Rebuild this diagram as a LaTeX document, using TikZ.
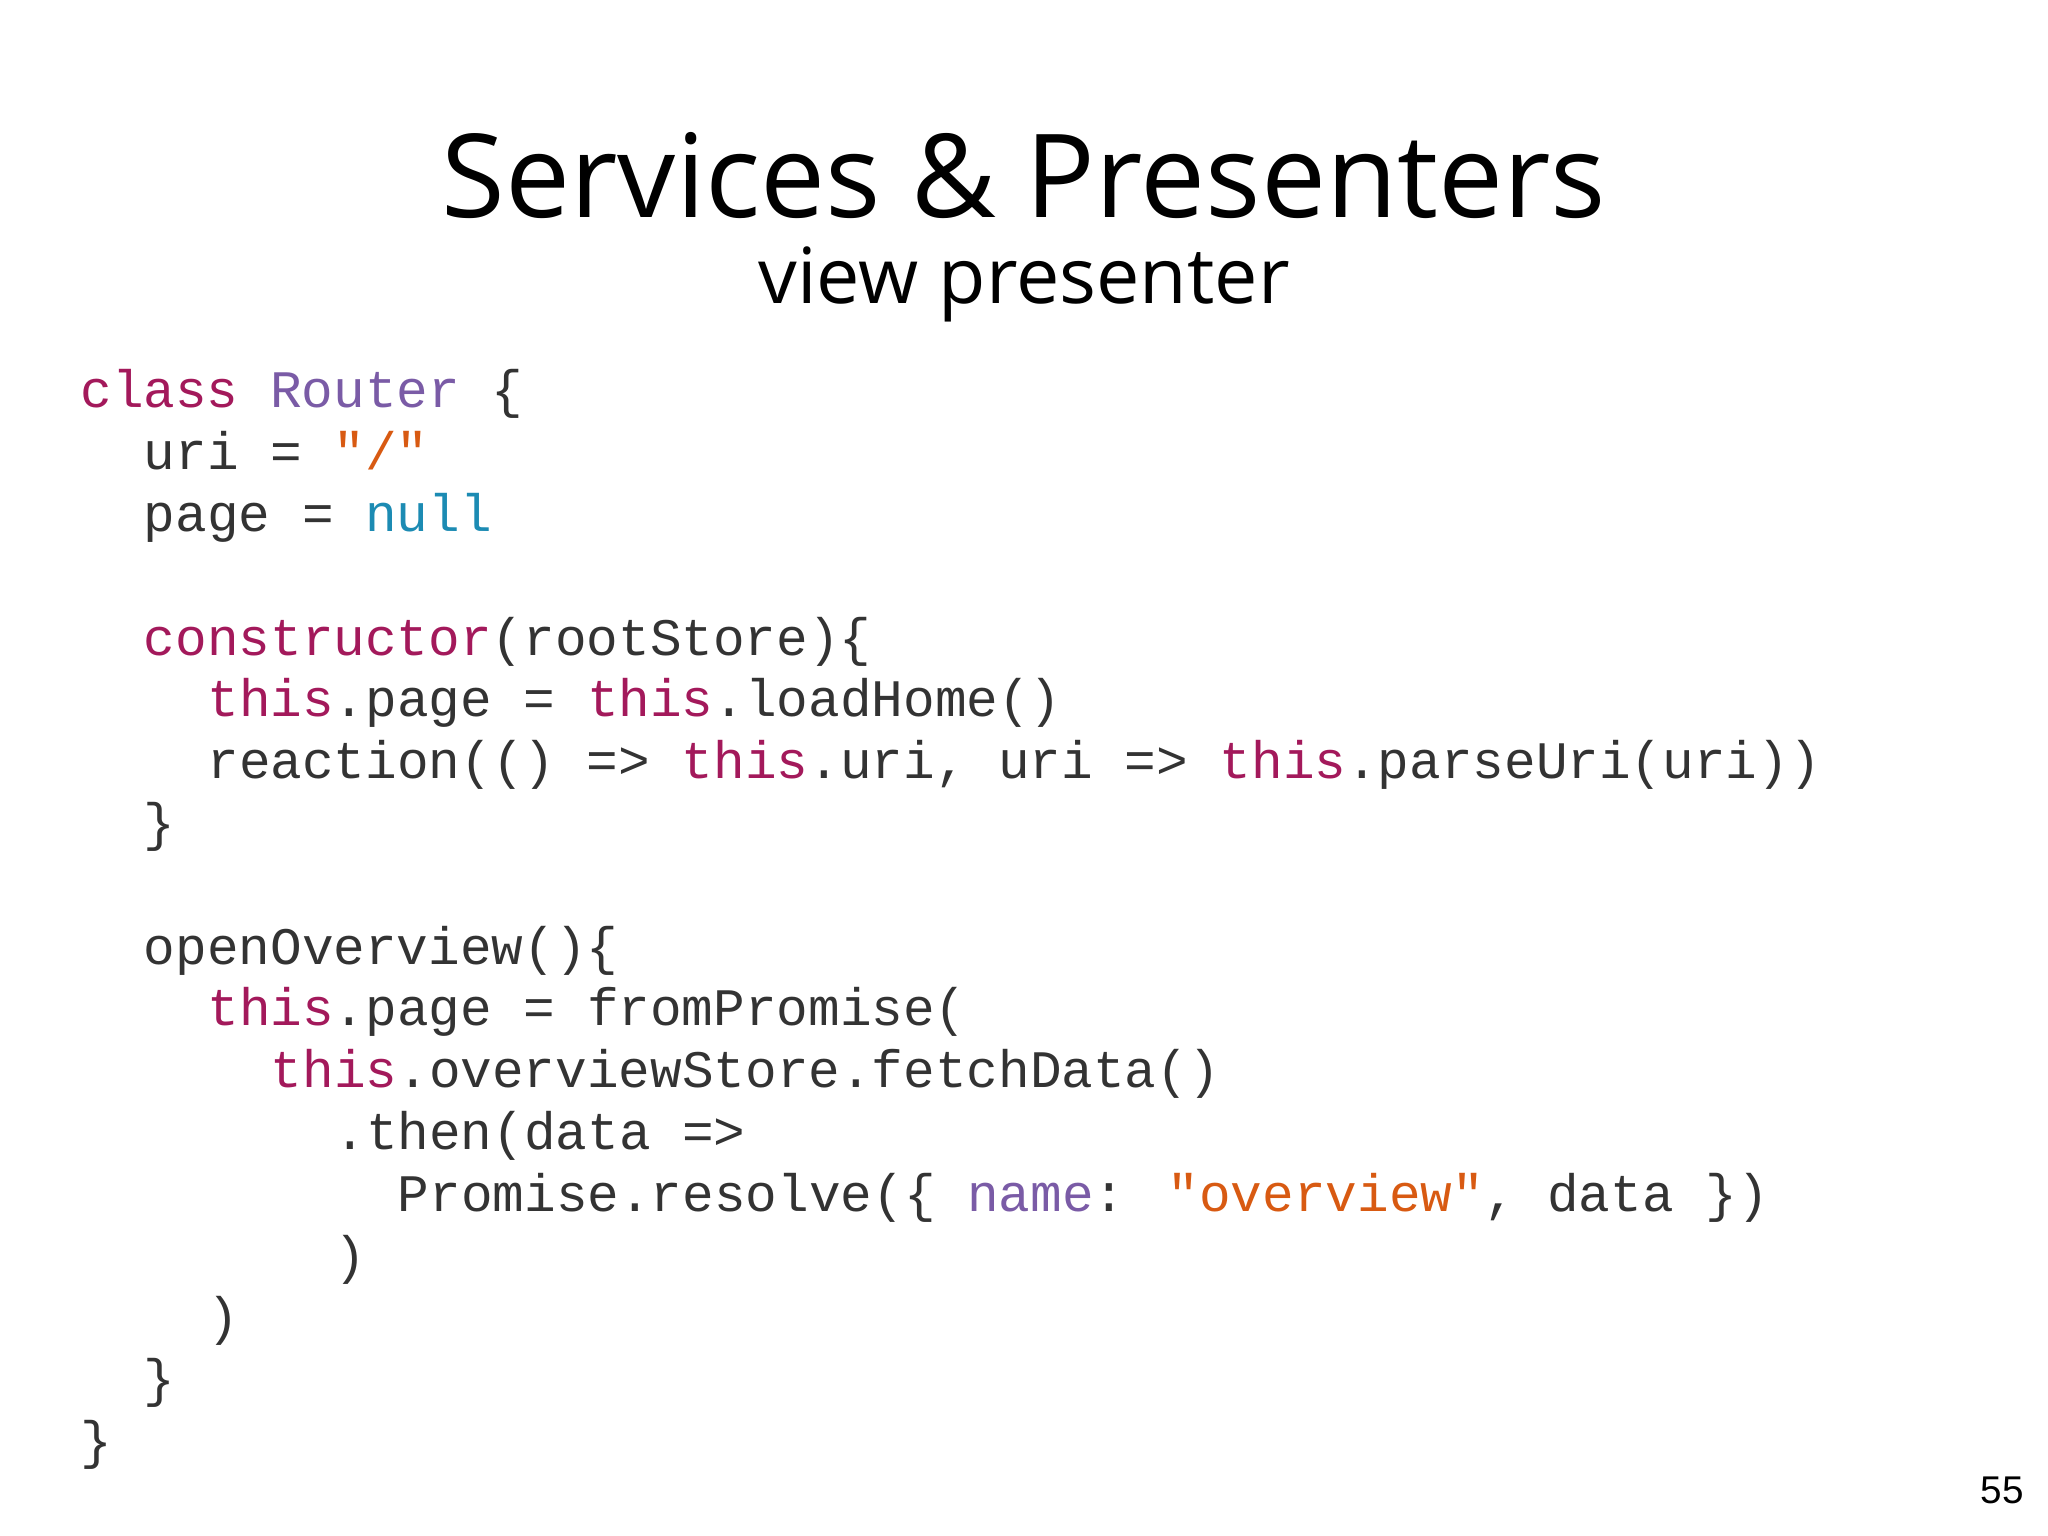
\documentclass[tikz,border=0pt]{standalone}
\usepackage{fontspec}
\newfontfamily\codefont{Liberation Mono}
\newfontfamily\titlefont{Open Sans}
\definecolor{kw}{HTML}{A3195B}
\definecolor{cls}{HTML}{7A5BA6}
\definecolor{str}{HTML}{D85A12}
\definecolor{nul}{HTML}{1C8BB3}
\definecolor{txt}{HTML}{333333}
\newcommand{\K}[1]{\textcolor{kw}{#1}}
\newcommand{\C}[1]{\textcolor{cls}{#1}}
\newcommand{\Sg}[1]{\textcolor{str}{#1}}
\newcommand{\Nl}[1]{\textcolor{nul}{#1}}
\begin{document}
\begin{tikzpicture}[x=1cm,y=1cm,
 code/.style={anchor=base west,inner sep=0,text=txt,font=\codefont\fontsize{15.0}{17}\selectfont}]
\fill[white] (0,0) rectangle (20.48,15.36);
\node[font=\titlefont\fontsize{33}{38}\selectfont] (title) at (10.24,13.60) {Services \& Presenters};
\node[font=\titlefont\fontsize{22}{26}\selectfont] (sub) at (10.24,12.52) {view presenter};
\def\LX{0.797}\def\CW{0.3175}\def\LY{11.28}\def\LS{0.618}
\foreach \n/\ind/\txt in {
 0/0/{\K{class} \C{Router} \{},
 1/2/{uri = \Sg{"/"}},
 2/2/{page = \Nl{null}},
 4/2/{\K{constructor}(rootStore)\{},
 5/4/{\K{this}.page = \K{this}.loadHome()},
 6/4/{reaction(() => \K{this}.uri, uri => \K{this}.parseUri(uri))},
 7/2/{\}},
 9/2/{openOverview()\{},
 10/4/{\K{this}.page = fromPromise(},
 11/6/{\K{this}.overviewStore.fetchData()},
 12/8/{.then(data =>},
 13/10/{Promise.resolve(\{ \C{name}: \Sg{"overview"}, data \})},
 14/8/{)},
 15/4/{)},
 16/2/{\}},
 17/0/{\}}}
 {\node[code] (l\n) at ({\LX+\ind*\CW},{\LY-\n*\LS}) {\txt};}
\node[font=\fontspec{Liberation Sans}\fontsize{11}{13}\selectfont,anchor=base east] (pg) at (20.36,0.32) {55};
\end{tikzpicture}
\end{document}
